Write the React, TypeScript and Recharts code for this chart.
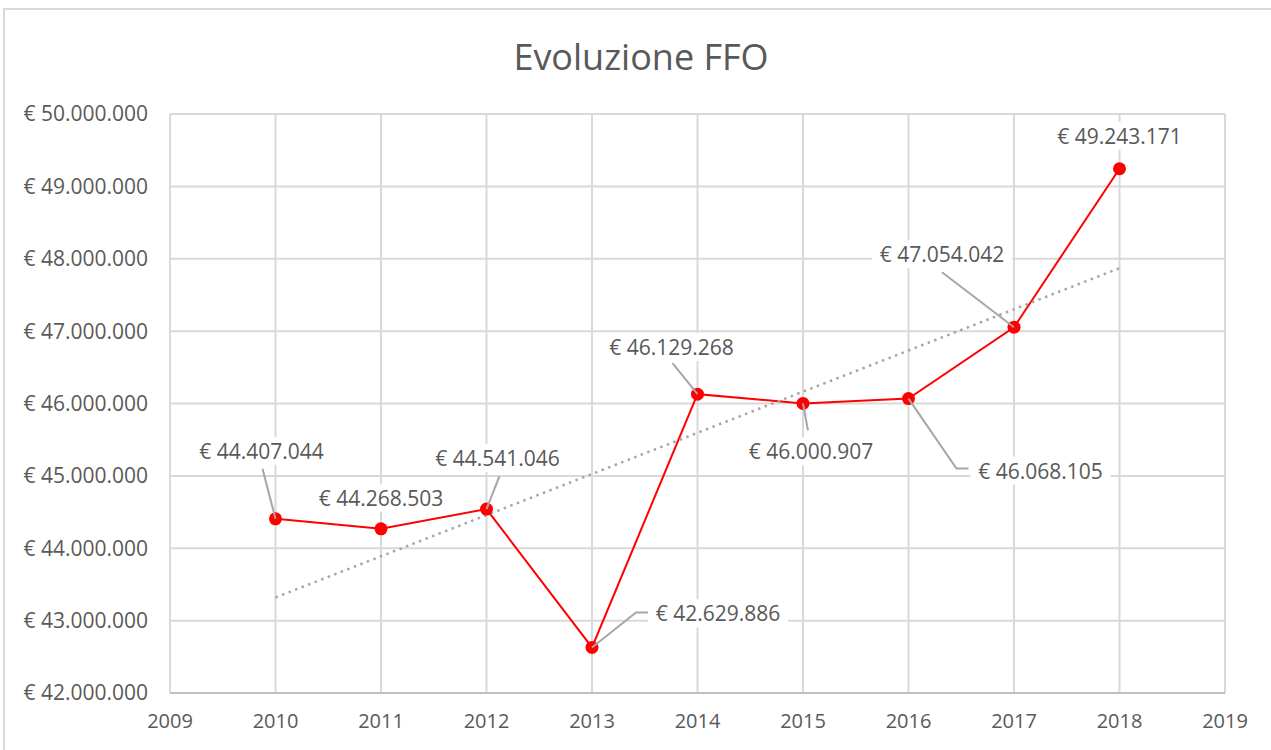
import React from "react";
import { LineChart, Line, XAxis, YAxis, CartesianGrid, LabelList } from "recharts";

const years = [2010, 2011, 2012, 2013, 2014, 2015, 2016, 2017, 2018];
const ffo = [44407044, 44268503, 44541046, 42629886, 46129268, 46000907, 46068105, 47054042, 49243171];
const trendYears = [2010, 2018];
const trendValues = [43320000, 47870000];
const xTicks = [2009, 2010, 2011, 2012, 2013, 2014, 2015, 2016, 2017, 2018, 2019];
const yTicks = [42000000, 43000000, 44000000, 45000000, 46000000, 47000000, 48000000, 49000000, 50000000];

const data = years.map((y, i) => ({ year: y, ffo: ffo[i] }));
const trendData = trendYears.map((y, i) => ({ year: y, trend: trendValues[i] }));

const FONT = "'Open Sans', sans-serif";
const TEXT = "#595959";
const GRID = "#d9d9d9";

const fmt = (v: number) => "€ " + Math.round(v).toString().replace(/\B(?=(\d{3})+(?!\d))/g, ".");

// label layout: text centre offset and leader path offsets from the point
const labelLayout: { dx: number; dy: number; leader?: number[][] }[] = [
  { dx: -14, dy: -68, leader: [[0, 0], [-13, -50]] },
  { dx: 0, dy: -31 },
  { dx: 11, dy: -51, leader: [[0, 0], [13, -33]] },
  { dx: 126, dy: -34, leader: [[0, 0], [44, -35], [56, -35]] },
  { dx: -26, dy: -47, leader: [[0, 0], [-25, -31]] },
  { dx: 8, dy: 48, leader: [[0, 0], [5, 27]] },
  { dx: 132, dy: 72, leader: [[0, 0], [48, 70], [60, 70]] },
  { dx: -72, dy: -73, leader: [[0, 0], [-72, -55]] },
  { dx: 0, dy: -33 },
];

const DataLabel = (props: any) => {
  const { x, y, index, value } = props;
  const l = labelLayout[index];
  if (!l || x == null || y == null) return null;
  const cx = x + l.dx;
  const cy = y + l.dy;
  const w = 140;
  const h = 28;
  return (
    <g>
      <rect x={cx - w / 2} y={cy - h / 2} width={w} height={h} fill="#fff" />
      {l.leader && (
        <polyline
          points={l.leader.map((p) => `${x + p[0]},${y + p[1]}`).join(" ")}
          fill="none"
          stroke="#a6a6a6"
          strokeWidth={2}
        />
      )}
      <text x={cx} y={cy} textAnchor="middle" dominantBaseline="central" fontFamily={FONT} fontSize={21} fill={TEXT}>
        {fmt(value)}
      </text>
    </g>
  );
};

export default function App() {
  return (
    <div style={{ position: "absolute", left: 0, top: 0, width: 1271, height: 750, background: "#fff", overflow: "hidden" }}>
      <div style={{ position: "absolute", left: 3, top: 8, width: 1300, height: 760, borderLeft: "2px solid #d9d9d9", borderTop: "2px solid #d9d9d9" }} />
      <div style={{ position: "absolute", left: 0, top: 34, width: 1282, textAlign: "center", fontFamily: FONT, fontSize: 36, color: TEXT, lineHeight: "46px" }}>
        Evoluzione FFO
      </div>
      <div style={{ position: "absolute", left: 0, top: 0 }}>
        <LineChart width={1271} height={750} data={data} margin={{ top: 114, right: 46, bottom: 27, left: 10 }}>
          <CartesianGrid stroke={GRID} strokeWidth={2} verticalValues={xTicks} horizontalValues={yTicks} />
          <XAxis
            dataKey="year"
            type="number"
            domain={[2009, 2019]}
            ticks={xTicks}
            allowDataOverflow
            height={30}
            axisLine={{ stroke: "#bfbfbf", strokeWidth: 2 }}
            tickLine={false}
            tickSize={0}
            tickMargin={21}
            tick={{ fill: TEXT, fontSize: 20, fontFamily: FONT }}
          />
          <YAxis
            type="number"
            domain={[42000000, 50000000]}
            ticks={yTicks}
            width={160}
            axisLine={false}
            tickLine={false}
            tickSize={0}
            tickMargin={22}
            tickFormatter={fmt}
            tick={{ fill: TEXT, fontSize: 21, fontFamily: FONT }}
          />
          <Line
            dataKey="ffo"
            stroke="#ff0000"
            strokeWidth={2}
            dot={{ r: 6.5, fill: "#ff0000", stroke: "#ff0000", strokeWidth: 0 }}
            isAnimationActive={false}
          />
          <Line
            data={trendData}
            dataKey="trend"
            stroke="#a6a6a6"
            strokeWidth={2.5}
            strokeDasharray="2.5 4.5"
            dot={false}
            isAnimationActive={false}
          />
          <Line dataKey="ffo" stroke="none" dot={false} isAnimationActive={false}>
            <LabelList dataKey="ffo" content={<DataLabel />} />
          </Line>
        </LineChart>
      </div>
    </div>
  );
}
